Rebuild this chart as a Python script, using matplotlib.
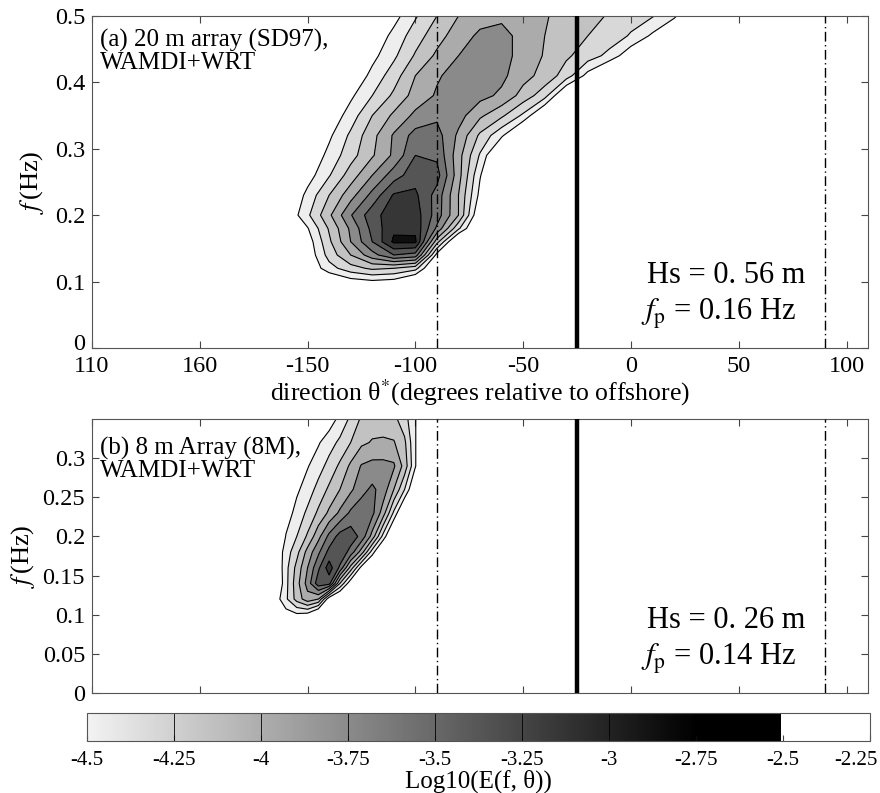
import numpy as np
import matplotlib
matplotlib.use('Agg')
import matplotlib.pyplot as plt
import matplotlib.transforms as mtransforms
from matplotlib.colors import ListedColormap, Normalize
from matplotlib.cm import ScalarMappable

plt.rcParams['font.family'] = ['Liberation Serif', 'DejaVu Serif']
plt.rcParams['mathtext.fontset'] = 'stix'
plt.rcParams['axes.unicode_minus'] = False
plt.rcParams['contour.negative_linestyle'] = 'solid'

# direction axis: ticks run past -180 deg so the labels wrap round
theta_ticks = [-250, -200, -150, -100, -50, 0, 50, 100]
theta_ticklabels = ['110', '160', '-150', '-100', '-50', '0', '50', '100']

# contour levels of log10 E(f, theta) and the colorbar ticks
levels = [-4.5, -4.25, -4.0, -3.75, -3.5, -3.25, -3.0, -2.75, -2.5]
cbar_ticks = [-4.5, -4.25, -4.0, -3.75, -3.5, -3.25, -3.0, -2.75, -2.5, -2.25]
cbar_ticklabels = ['-4.5', '-4.25', '-4', '-3.75', '-3.5', '-3.25', '-3', '-2.75', '-2.5', '-2.25']

B = -5.0  # background (below lowest contour)

# (a) 20 m array on a coarse grid
theta_a = [-170, -160, -150, -140, -130, -120, -110, -100, -90, -80, -70,
           -60, -50, -40, -30, -20, -10, 0, 10, 20, 30, 40]
freq_a = [0.08, 0.10, 0.12, 0.14, 0.16, 0.18, 0.20, 0.23, 0.26, 0.29, 0.32,
          0.35, 0.38, 0.41, 0.44, 0.47, 0.50]
logE_a = [
    [B, B, B, B, B, B, B, B, B, B, B, B, B, B, B, B, B, B, B, B, B, B],
    [B, B, B, -4.8, -4.62, -4.55, -4.6, -4.9, B, B, B, B, B, B, B, B, B, B, B, B, B, B],
    [B, B, -4.75, -4.35, -4.1, -3.95, -4.0, -4.15, B, B, B, B, B, B, B, B, B, B, B, B, B, B],
    [B, B, -4.7, -4.15, -3.75, -3.35, -3.0, -3.1, -4.6, B, B, B, B, B, B, B, B, B, B, B, B, B],
    [B, B, -4.65, -4.05, -3.5, -3.0, -2.45, -2.45, -3.9, B, B, B, B, B, B, B, B, B, B, B, B, B],
    [B, B, -4.52, -3.97, -3.45, -2.92, -2.55, -2.56, -3.3, -4.2, B, B, B, B, B, B, B, B, B, B, B, B],
    [B, -4.75, -4.3, -3.8, -3.27, -2.85, -2.6, -2.62, -3.12, -3.75, -4.8, B, B, B, B, B, B, B, B, B, B, B],
    [B, -4.85, -4.42, -4.0, -3.6, -3.17, -2.72, -2.7, -3.1, -3.75, -4.58, B, B, B, B, B, B, B, B, B, B, B],
    [B, B, -4.62, -4.27, -3.88, -3.5, -3.12, -2.85, -2.9, -3.65, -4.48, B, B, B, B, B, B, B, B, B, B, B],
    [B, B, -4.75, -4.42, -4.1, -3.78, -3.45, -3.0, -3.05, -3.65, -4.28, B, B, B, B, B, B, B, B, B, B, B],
    [B, B, B, -4.55, -4.2, -3.83, -3.47, -3.15, -3.15, -3.55, -4.05, -4.45, B, B, B, B, B, B, B, B, B, B],
    [B, B, B, -4.7, -4.38, -4.0, -3.7, -3.44, -3.3, -3.4, -3.7, -3.95, -4.3, -4.9, B, B, B, B, B, B, B, B],
    [B, B, B, B, -4.55, -4.25, -3.95, -3.65, -3.47, -3.4, -3.42, -3.55, -3.85, -4.15, -4.9, B, B, B, B, B, B, B],
    [B, B, B, B, -4.75, -4.42, -4.12, -3.75, -3.53, -3.4, -3.36, -3.44, -3.66, -3.84, -4.12, -4.6, B, B, B, B, B, B],
    [B, B, B, B, -4.9, -4.58, -4.3, -3.97, -3.7, -3.5, -3.38, -3.4, -3.6, -3.77, -3.96, -4.12, -4.33, -4.7, B, B, B, B],
    [B, B, B, B, B, -4.72, -4.42, -4.12, -3.85, -3.62, -3.45, -3.42, -3.58, -3.75, -3.87, -4.0, -4.1, -4.28, -4.55, B, B, B],
    [B, B, B, B, B, B, -4.6, -4.28, -4.0, -3.75, -3.6, -3.55, -3.6, -3.73, -3.83, -3.93, -4.02, -4.13, -4.23, -4.43, B, B],
]

# (b) 8 m array
theta_b = [-175, -170, -165, -160, -155, -150, -145, -140, -135, -130, -125,
           -120, -115, -110, -105, -100, -95, -90]
freq_b = [0.08, 0.10, 0.12, 0.14, 0.16, 0.18, 0.20, 0.23, 0.26, 0.29, 0.32, 0.35, 0.38]
logE_b = [
    [B, B, B, B, B, B, B, B, B, B, B, B, B, B, B, B, B, B],
    [B, B, B, -4.62, -4.55, -4.6, -4.95, B, B, B, B, B, B, B, B, B, B, B],
    [B, B, -4.65, -4.3, -3.9, -3.6, -3.75, -4.7, B, B, B, B, B, B, B, B, B, B],
    [B, B, -4.85, -4.33, -3.85, -3.4, -2.85, -2.9, -4.0, -4.7, B, B, B, B, B, B, B, B],
    [B, B, -4.8, -4.33, -3.92, -3.5, -3.05, -2.62, -3.05, -3.85, -4.6, B, B, B, B, B, B, B],
    [B, B, -4.75, -4.38, -4.08, -3.66, -3.3, -2.92, -2.8, -3.1, -3.62, -4.38, B, B, B, B, B, B],
    [B, B, B, -4.48, -4.25, -3.96, -3.58, -3.18, -2.9, -2.85, -3.08, -3.6, -4.33, B, B, B, B, B],
    [B, B, B, -4.65, -4.4, -4.2, -3.95, -3.7, -3.45, -3.2, -3.1, -3.18, -3.62, -4.3, -4.95, B, B, B],
    [B, B, B, B, -4.55, -4.37, -4.17, -3.95, -3.75, -3.55, -3.33, -3.2, -3.35, -3.75, -4.25, -4.85, B, B],
    [B, B, B, B, B, -4.52, -4.35, -4.17, -3.95, -3.7, -3.48, -3.42, -3.42, -3.46, -3.85, -4.48, B, B],
    [B, B, B, B, B, B, -4.53, -4.35, -4.2, -4.0, -3.8, -3.73, -3.72, -3.73, -3.95, -4.48, B, B],
    [B, B, B, B, B, B, B, -4.65, -4.42, -4.2, -3.96, -3.86, -3.85, -3.93, -4.15, -4.48, B, B],
    [B, B, B, B, B, B, B, B, -4.75, -4.4, -4.2, -4.05, -4.0, -4.0, -4.1, -4.3, -4.6, B],
]

shore_dirs = [-90, 90]      # dash-dot lines
mean_dir = -25              # thick solid line
labels = ['(a) 20 m array (SD97),\nWAMDI+WRT', '(b) 8 m Array (8M),\nWAMDI+WRT']
hs_text = ['Hs = 0. 56 m', 'Hs = 0. 26 m']
fp_text = [r'$f_\mathrm{p}$ = 0.16 Hz', r'$f_\mathrm{p}$ = 0.14 Hz']

band_colors = ['#eeeeee', '#d8d8d8', '#c2c2c2', '#ababab', '#8a8a8a',
               '#717171', '#555555', '#363636', '#0e0e0e']

fig = plt.figure(figsize=(8.8, 7.93), dpi=100)
ax_a = fig.add_axes([0.1045, 0.5612, 0.882, 0.4187])
ax_b = fig.add_axes([0.1045, 0.1261, 0.882, 0.3455])
cax = fig.add_axes([0.0989, 0.0656, 0.8898, 0.0353])

panels = [(ax_a, theta_a, freq_a, logE_a), (ax_b, theta_b, freq_b, logE_b)]
for i, (ax, th, fr, z) in enumerate(panels):
    z = np.array(z)
    ax.contourf(th, fr, z, levels=levels + [0.0], colors=band_colors)
    ax.contour(th, fr, z, levels=levels, colors='k', linewidths=0.8,
               linestyles='solid')
    for d in shore_dirs:
        ax.axvline(d, color='k', lw=1.0, linestyle=(0, (7, 2.5, 1, 2.5)), zorder=3)
    ax.axvline(mean_dir, color='k', lw=3.2, zorder=4)
    ax.set_xlim(-250, 110)
    ax.set_xticks(theta_ticks)
    ax.tick_params(direction='in', top=True, right=True, length=5,
                   labelsize=17.5, pad=5, color='#444444')
    for s in ax.spines.values():
        s.set_edgecolor('#555555')
    ax.text(0.0103, 0.96 if i == 0 else 0.935, labels[i], transform=ax.transAxes,
            ha='left', va='top', fontsize=18, linespacing=1.0)
    ax.text(0.715, 0.196 if i == 0 else 0.237, hs_text[i], transform=ax.transAxes,
            ha='left', va='baseline', fontsize=22)
    ax.text(0.708, 0.084 if i == 0 else 0.102, fp_text[i], transform=ax.transAxes,
            ha='left', va='baseline', fontsize=22)

ax_a.set_ylim(0, 0.5)
ax_a.set_yticks([0, 0.1, 0.2, 0.3, 0.4, 0.5])
ax_a.set_yticklabels(['0', '0.1', '0.2', '0.3', '0.4', '0.5'])
ax_a.set_xticklabels(theta_ticklabels)
ax_a.tick_params(axis='x', pad=6)
ax_a.set_xlabel('direction θ$^{*}$(degrees relative to offshore)', fontsize=18.5, labelpad=0)
ax_a.set_ylabel(r'$f\,$(Hz)', fontsize=19, labelpad=6)
# lift the corner "0" a little so it clears the "110" below it
zero = ax_a.get_yticklabels()[0]
zero.set_transform(zero.get_transform() +
                   mtransforms.ScaledTranslation(0, 0.06, fig.dpi_scale_trans))

ax_b.set_ylim(0, 0.35)
ax_b.set_yticks([0, 0.05, 0.1, 0.15, 0.2, 0.25, 0.3])
ax_b.set_yticklabels(['0', '0.05', '0.1', '0.15', '0.2', '0.25', '0.3'])
ax_b.set_xticklabels([])
ax_b.set_ylabel(r'$f\,$(Hz)', fontsize=19, labelpad=4)

# colorbar: grey ramp to black at -2.5, white above
cvals = np.linspace(-4.5, -2.25, 256)
grey = np.where(cvals < -2.5, np.clip(np.interp(cvals, [-4.5, -2.75], [0.95, 0.0]), 0, 1), 1.0)
cmap = ListedColormap(np.column_stack([grey, grey, grey]))
sm = ScalarMappable(norm=Normalize(-4.5, -2.25), cmap=cmap)
cbar = fig.colorbar(sm, cax=cax, orientation='horizontal')
for lv in levels[1:-1]:
    cax.axvline(lv, color='k', lw=0.6)
cbar.set_ticks(cbar_ticks)
cbar.set_ticklabels(cbar_ticklabels)
cax.tick_params(direction='in', length=4, labelsize=15, pad=7, color='#444444')
last = cax.get_xticklabels()[-1]
last.set_horizontalalignment('right')
last.set_transform(last.get_transform() +
                   mtransforms.ScaledTranslation(0.08, 0, fig.dpi_scale_trans))
cbar.outline.set_edgecolor('#555555')
cbar.set_label('Log10(E(f, θ))', fontsize=18, labelpad=0)

plt.savefig('out.png', dpi=100)
